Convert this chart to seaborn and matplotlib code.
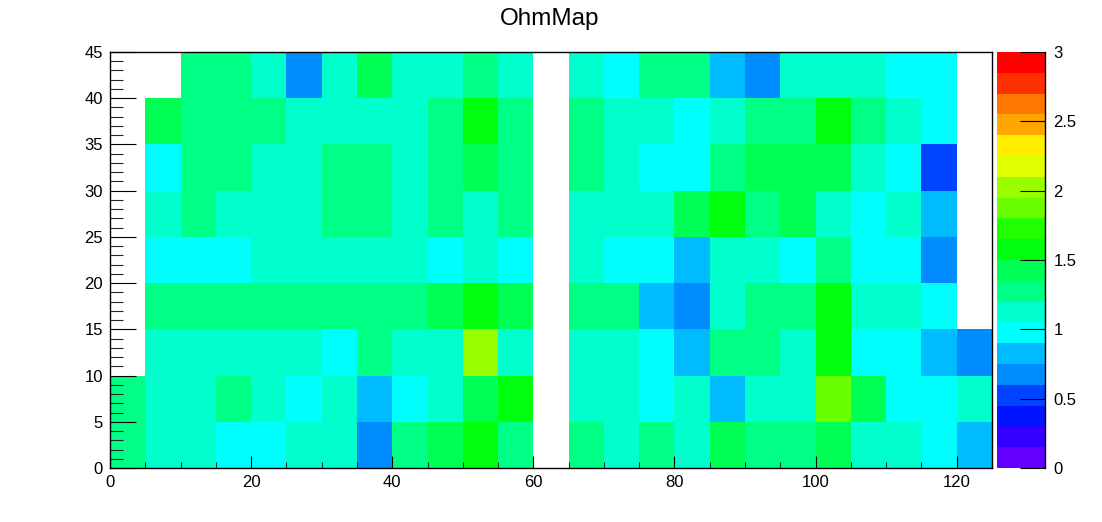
import colorsys
import numpy as np
import pandas as pd
import matplotlib
matplotlib.use("Agg")
import matplotlib.pyplot as plt
from matplotlib.colors import ListedColormap
import seaborn as sns

# ---------------- data ----------------
title = "OhmMap"
x_bin_width = 5
y_bin_width = 5
x_tick_values = [0, 20, 40, 60, 80, 100, 120]
y_tick_values = [0, 5, 10, 15, 20, 25, 30, 35, 40, 45]
cbar_tick_values = [0, 0.5, 1, 1.5, 2, 2.5, 3]
cbar_tick_labels = ["0", "0.5", "1", "1.5", "2", "2.5", "3"]
z_min, z_max, n_levels = 0.0, 3.0, 20

# rows from y = 0-5 (bottom) upward; 25 bins along x (0..125, width 5); 0 = empty bin
row_y00 = [1.27, 1.12, 1.14, 0.98, 0.97, 1.13, 1.11, 0.68, 1.28, 1.43, 1.58, 1.27, 0,
           1.28, 1.12, 1.29, 1.13, 1.44, 1.27, 1.28, 1.42, 1.13, 1.12, 0.98, 0.83]
row_y05 = [1.28, 1.13, 1.12, 1.27, 1.14, 0.97, 1.13, 0.83, 0.98, 1.12, 1.43, 1.57, 0,
           1.13, 1.12, 0.97, 1.13, 0.82, 1.12, 1.13, 1.87, 1.43, 0.98, 0.97, 1.12]
row_y10 = [0, 1.12, 1.13, 1.12, 1.14, 1.13, 0.98, 1.28, 1.12, 1.13, 2.03, 1.12, 0,
           1.13, 1.12, 0.98, 0.83, 1.28, 1.27, 1.12, 1.58, 0.97, 0.98, 0.82, 0.68]
row_y15 = [0, 1.28, 1.27, 1.28, 1.27, 1.28, 1.27, 1.28, 1.27, 1.43, 1.57, 1.42, 0,
           1.27, 1.28, 0.83, 0.68, 1.12, 1.28, 1.27, 1.58, 1.13, 1.12, 0.98, 0]
row_y20 = [0, 0.98, 0.97, 0.98, 1.12, 1.13, 1.12, 1.13, 1.12, 0.98, 1.13, 0.97, 0,
           1.12, 0.98, 0.97, 0.83, 1.12, 1.13, 0.98, 1.28, 0.97, 0.98, 0.68, 0]
row_y25 = [0, 1.13, 1.28, 1.12, 1.13, 1.12, 1.27, 1.28, 1.13, 1.27, 1.12, 1.28, 0,
           1.13, 1.12, 1.13, 1.43, 1.58, 1.27, 1.42, 1.12, 0.98, 1.13, 0.83, 0]
row_y30 = [0, 0.98, 1.27, 1.28, 1.12, 1.13, 1.28, 1.27, 1.12, 1.28, 1.43, 1.27, 0,
           1.28, 1.12, 0.97, 0.98, 1.27, 1.43, 1.42, 1.43, 1.12, 0.98, 0.53, 0]
row_y35 = [0, 1.43, 1.28, 1.27, 1.28, 1.12, 1.13, 1.12, 1.13, 1.27, 1.58, 1.28, 0,
           1.27, 1.13, 1.12, 0.98, 1.13, 1.28, 1.27, 1.57, 1.28, 1.12, 0.97, 0]
row_y40 = [0, 0, 1.28, 1.27, 1.12, 0.68, 1.13, 1.43, 1.12, 1.13, 1.28, 1.12, 0,
           1.13, 0.98, 1.27, 1.28, 0.83, 0.67, 1.12, 1.13, 1.12, 0.98, 0.97, 0]

rows = [row_y00, row_y05, row_y10, row_y15, row_y20, row_y25, row_y30, row_y35, row_y40]
n_x = len(row_y00)
x_lows = [i * x_bin_width for i in range(n_x)]
y_lows = [j * y_bin_width for j in range(len(rows))]
df = pd.DataFrame(rows, index=y_lows, columns=x_lows)
mask = df == 0

# ROOT-style "pretty" palette (HLS hues 280 -> 0), 20 contour levels
def root_palette(ncont):
    ncol = 50
    cols = []
    for k in range(ncont):
        idx = int((k + 0.99) * ncol / ncont)
        hue = 280 - (idx + 1) * (280.0 / ncol)
        cols.append(colorsys.hls_to_rgb(hue / 360.0, 0.5, 1.0))
    return cols

cmap = ListedColormap(root_palette(n_levels))

# ---------------- figure ----------------
sns.set_style("white")
plt.rcParams["font.family"] = ["Liberation Sans", "DejaVu Sans"]
plt.rcParams["axes.axisbelow"] = False
plt.rcParams["text.color"] = "black"

W, H = 1102, 522
fig = plt.figure(figsize=(W / 100, H / 100), dpi=100)
ax = fig.add_axes([110 / W, (H - 468) / H, 882 / W, 416 / H])
cax = fig.add_axes([997 / W, (H - 468) / H, 48 / W, 416 / H])

sns.heatmap(df, mask=mask, cmap=cmap, vmin=z_min, vmax=z_max, ax=ax, cbar=True,
            cbar_ax=cax, linewidths=0, xticklabels=False, yticklabels=False)
ax.invert_yaxis()
ax.set_xlabel("")
ax.set_ylabel("")
ax.set_axisbelow(False)
cax.set_axisbelow(False)

# axis ticks in data units -> heatmap cell units
ax.set_xticks([v / x_bin_width for v in x_tick_values])
ax.set_xticklabels([str(v) for v in x_tick_values])
ax.set_xticks(np.arange(0, n_x + 1, 1), minor=True)
ax.set_yticks([v / y_bin_width for v in y_tick_values])
ax.set_yticklabels([str(v) for v in y_tick_values])
ax.set_yticks(np.arange(0, len(rows) + 0.001, 0.2), minor=True)

for s in ax.spines.values():
    s.set_visible(True)
    s.set_color("black")
    s.set_linewidth(1.0)
    s.set_zorder(3)

ax.tick_params(axis="x", which="major", direction="in", length=9, width=0.8,
               labelsize=12, pad=5, bottom=True, top=False, colors="black")
ax.tick_params(axis="x", which="minor", direction="in", length=4.5, width=0.8,
               bottom=True, top=False)
ax.tick_params(axis="y", which="major", direction="in", length=19, width=0.8,
               labelsize=12, pad=5, left=True, right=False, colors="black")
ax.tick_params(axis="y", which="minor", direction="in", length=9.5, width=0.8,
               left=True, right=False)

cb = ax.collections[0].colorbar
cb.set_ticks(cbar_tick_values)
cb.set_ticklabels(cbar_tick_labels)
cb.minorticks_off()
cb.outline.set_visible(False)
cax.tick_params(axis="y", which="major", direction="in", length=18, width=0.8,
                labelsize=12, pad=6, right=True, left=False, colors="black")
cax.plot([1, 1], [0, 1], transform=cax.transAxes, color="black", lw=1.0,
         clip_on=False, zorder=5)

fig.text(550 / W, 1 - 19 / H, title, ha="center", va="center", fontsize=17.5,
         color="black")

fig.savefig("out.png", dpi=100, facecolor="white")
